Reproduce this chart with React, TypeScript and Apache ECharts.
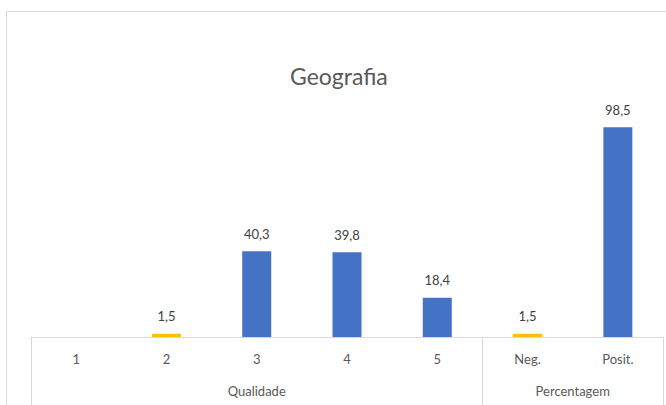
import React, { useEffect, useRef } from "react";
import * as echarts from "echarts";

const title = "Geografia";
const categories = ["1", "2", "3", "4", "5", "Neg.", "Posit."];
const values: (number | null)[] = [null, 1.5, 40.3, 39.8, 18.4, 1.5, 98.5];
const highlighted = ["2", "Neg."];
const groups = ["Qualidade", "Percentagem"];
const groupSizes = [5, 2];

const BLUE = "#4472C4";
const GOLD = "#FFC000";
const TEXT = "#595959";
const LINE = "#D9D9D9";
const FONT = "Lato, 'Open Sans', sans-serif";

export default function App() {
  const ref = useRef<HTMLDivElement>(null);
  useEffect(() => {
    if (!ref.current) return;
    const chart = echarts.init(ref.current, undefined, { renderer: "svg" });
    const boundaries: number[] = [0];
    const centers: number[] = [];
    groupSizes.forEach((s) => {
      const start = boundaries[boundaries.length - 1];
      centers.push(start + s / 2);
      boundaries.push(start + s);
    });
    const total = boundaries[boundaries.length - 1];
    chart.setOption({
      animation: false,
      textStyle: { fontFamily: FONT },
      title: {
        text: title,
        left: 290,
        top: 64,
        padding: 0,
        textStyle: { color: TEXT, fontSize: 23, fontWeight: "normal", fontFamily: FONT },
      },
      graphic: [
        {
          type: "rect",
          shape: { x: 6.5, y: 11.5, width: 720, height: 420 },
          style: { fill: "none", stroke: LINE, lineWidth: 1 },
          silent: true,
        },
      ],
      grid: { left: 31, right: 3, top: 124, bottom: 68, containLabel: false },
      xAxis: [
        {
          type: "category",
          data: categories,
          position: "bottom",
          axisLine: { show: true, lineStyle: { color: LINE, width: 1 } },
          axisTick: { show: false },
          axisLabel: { interval: 0, color: TEXT, fontSize: 13, margin: 15, fontFamily: FONT },
          splitLine: { show: false },
        },
        {
          type: "value",
          min: 0,
          max: total,
          position: "bottom",
          axisLine: { show: false },
          splitLine: { show: false },
          axisTick: {
            show: true,
            customValues: boundaries,
            length: 70,
            lineStyle: { color: LINE, width: 1 },
          },
          axisLabel: {
            show: true,
            customValues: centers,
            margin: 47,
            color: TEXT,
            fontSize: 13,
            fontFamily: FONT,
            formatter: (v: number) => {
              const i = centers.findIndex((c) => Math.abs(c - v) < 1e-6);
              return i >= 0 ? groups[i] : "";
            },
          },
        },
      ],
      yAxis: { type: "value", min: 0, max: 100, show: false, splitLine: { show: false } },
      series: [
        {
          type: "bar",
          xAxisIndex: 0,
          barWidth: 29,
          data: values.map((v, i) => ({
            value: v,
            itemStyle: { color: highlighted.includes(categories[i]) ? GOLD : BLUE },
          })),
          label: {
            show: true,
            position: "top",
            distance: 11,
            color: "#404040",
            fontSize: 13,
            fontFamily: FONT,
            formatter: (p: any) =>
              p.value == null ? "" : String(p.value).replace(".", ","),
          },
        },
      ],
    });
    return () => chart.dispose();
  }, []);
  return (
    <div
      ref={ref}
      style={{ position: "fixed", left: 0, top: 0, width: 666, height: 405, background: "#fff" }}
    />
  );
}
